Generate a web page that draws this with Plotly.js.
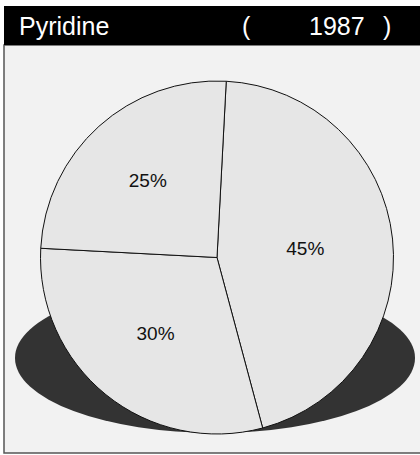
<!DOCTYPE html>
<html><head><meta charset="utf-8">
<script src="https://cdn.plot.ly/plotly-3.0.1.min.js"></script>
<style>html,body{margin:0;padding:0;background:#fff}#chart{width:420px;height:455px}</style>
</head><body><div id="chart"></div>
<script>
var categories = ["A", "B", "C"];
var shares = [45, 30, 25];
var chartTitle = "Pyridine";
var yearLabel = "1987";

var W = 420, H = 455;
function px(x){return x/W;}
function py(y){return 1 - y/H;}

var trace = {
  type: "pie",
  labels: categories,
  values: shares,
  sort: false,
  direction: "clockwise",
  rotation: 3,
  textinfo: "percent",
  textposition: "inside",
  insidetextorientation: "horizontal",
  textfont: {family: "Liberation Sans, Arial, sans-serif", size: 19, color: "#111"},
  marker: {colors: ["#e6e6e6", "#e6e6e6", "#e6e6e6"], line: {color: "#111", width: 1}},
  domain: {x: [px(40.5), px(393.5)], y: [py(434), py(81)]},
  hoverinfo: "none",
  showlegend: false
};

var tf = {family: "Liberation Sans, Arial, sans-serif", size: 25, color: "#fff"};
var layout = {
  width: W, height: H,
  margin: {l: 0, r: 0, t: 0, b: 0},
  paper_bgcolor: "#fff",
  showlegend: false,
  shapes: [
    {type: "rect", xref: "paper", yref: "paper", x0: px(4), x1: px(430), y0: py(453), y1: py(45),
     fillcolor: "#f2f2f2", line: {color: "#555", width: 1.5}, layer: "below"},
    {type: "rect", xref: "paper", yref: "paper", x0: px(4), x1: px(430), y0: py(45), y1: py(6),
     fillcolor: "#000", line: {width: 0}, layer: "below"},
    {type: "circle", xref: "paper", yref: "paper", x0: px(15), x1: px(415), y0: py(433), y1: py(283),
     fillcolor: "#333", line: {width: 0}, layer: "below"}
  ],
  annotations: [
    {xref: "paper", yref: "paper", x: px(17), y: py(26), xanchor: "left", yanchor: "middle", text: chartTitle, showarrow: false, font: tf},
    {xref: "paper", yref: "paper", x: px(240), y: py(26), xanchor: "left", yanchor: "middle", text: "(", showarrow: false, font: tf},
    {xref: "paper", yref: "paper", x: px(307), y: py(26), xanchor: "left", yanchor: "middle", text: yearLabel, showarrow: false, font: tf},
    {xref: "paper", yref: "paper", x: px(381), y: py(26), xanchor: "left", yanchor: "middle", text: ")", showarrow: false, font: tf}
  ]
};

Plotly.newPlot("chart", [trace], layout, {displayModeBar: false, staticPlot: true});
</script>
</body></html>
